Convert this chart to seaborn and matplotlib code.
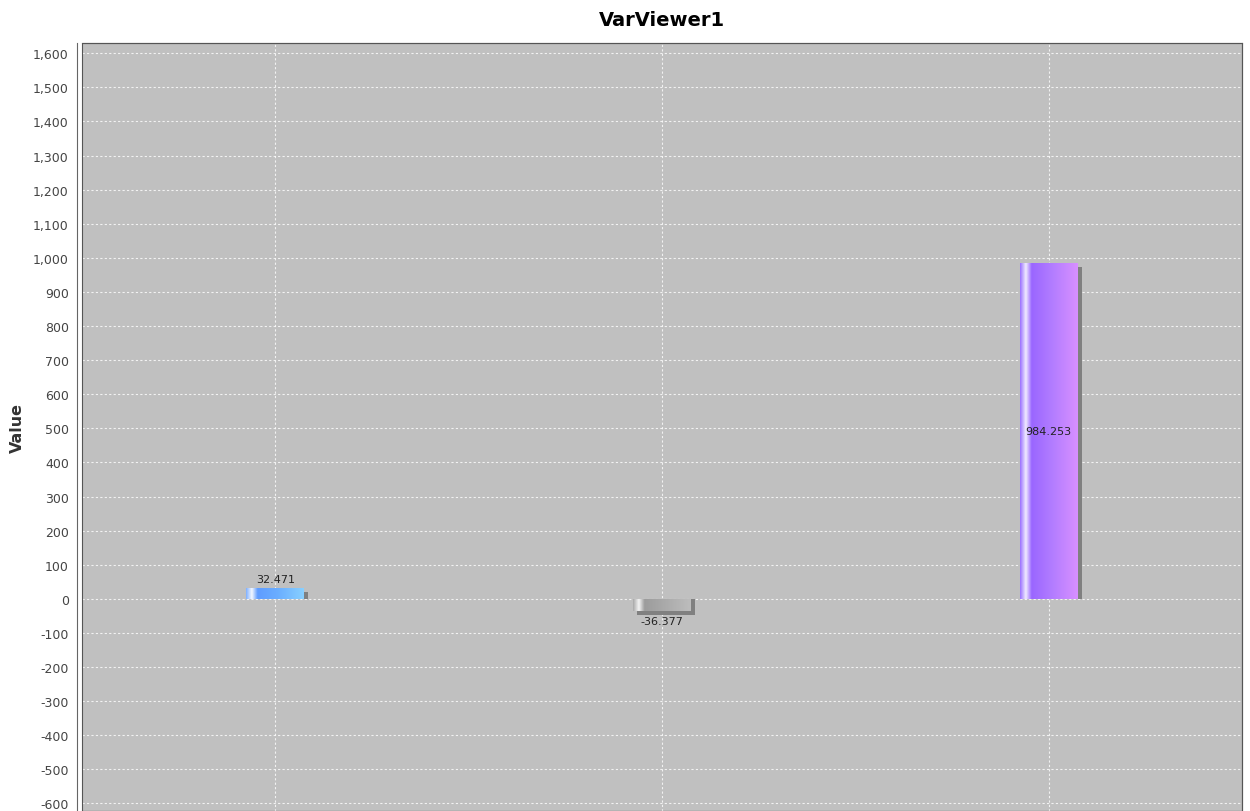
import matplotlib
matplotlib.use("Agg")
import matplotlib.pyplot as plt
from matplotlib.colors import LinearSegmentedColormap
from matplotlib.patches import Rectangle
import numpy as np
import pandas as pd
import seaborn as sns

categories = ["Row 1", "Row 2", "Row 3"]
values = [32.471, -36.377, 984.253]
labels = ["32.471", "-36.377", "984.253"]
bar_colors = ["#6ea8ff", "#a8a8a8", "#a070ff"]
# left-to-right shading of each bar (highlight near the left edge)
shades = [
    ["#7fb0ff", "#f4f8ff", "#5f9cff", "#6aaeff", "#88d0ff"],
    ["#a8a8a8", "#f4f4f4", "#9c9c9c", "#aaaaaa", "#bdbdbd"],
    ["#9a70ff", "#f0ecff", "#9a66ff", "#b27cff", "#d890ff"],
]

sns.set_style("white")
plt.rcParams["font.family"] = ["DejaVu Sans"]
plt.rcParams["axes.unicode_minus"] = False

df = pd.DataFrame({"cat": categories, "val": values})

fig = plt.figure(figsize=(12.5, 8.12), dpi=100)
ax = fig.add_axes([0.0656, 0.0, 0.928, 0.9458])
ax.set_facecolor("#c0c0c0")

sns.barplot(data=df, x="cat", y="val", hue="cat", palette=bar_colors,
            width=0.15, legend=False, ax=ax, zorder=3, saturation=1)

xlim = (-0.5, 2.5)
ylim = (-622, 1630)
ax.set_xlim(*xlim)
ax.set_ylim(*ylim)
ax.set_yticks(range(-600, 1601, 100))
ax.yaxis.set_major_formatter(matplotlib.ticker.StrMethodFormatter("{x:,.0f}"))
ax.tick_params(axis="y", labelsize=9, colors="#444444", length=3, pad=3)
ax.tick_params(axis="x", labelbottom=False, length=0)
ax.grid(True, color="white", linestyle=(0, (2, 2)), linewidth=0.8, alpha=0.8)
ax.set_axisbelow(True)
for s in ax.spines.values():
    s.set_color("#555555")
    s.set_linewidth(0.8)
ax.spines["left"].set_position(("outward", 3.5))
ax.spines["left"].set_color("#666666")
# plot border
ax.add_patch(Rectangle((0, 0), 1, 1, transform=ax.transAxes, fill=False,
                       edgecolor="#555555", linewidth=0.8, zorder=6, clip_on=False))

ax.set_xlabel("")
ax.set_ylabel("Value", fontsize=11.5, fontweight="bold", color="#333333", labelpad=6)
ax.set_title("VarViewer1", fontsize=14, fontweight="bold", pad=13, color="black")

# pixel -> data conversion for the 4px drop shadow
ax_w_px = 0.928 * 1250
ax_h_px = 0.9458 * 812
dx = 4 * (xlim[1] - xlim[0]) / ax_w_px
dy = 4 * (ylim[1] - ylim[0]) / ax_h_px

for p, sh, lab, v in zip(ax.patches, shades, labels, values):
    x0, y0 = p.get_x(), p.get_y()
    w, h = p.get_width(), p.get_height()
    # drop shadow, pegged to the base line
    ax.add_patch(Rectangle((x0 + dx, 0), w, v - dy, facecolor="#808080",
                           edgecolor="none", zorder=2))
    # gradient fill clipped to the bar
    cmap = LinearSegmentedColormap.from_list(
        "g", list(zip([0.0, 0.1, 0.2, 0.55, 1.0], sh)))
    grad = np.linspace(0, 1, 256).reshape(1, -1)
    ymin, ymax = sorted([y0, y0 + h])
    im = ax.imshow(grad, cmap=cmap, aspect="auto", extent=[x0, x0 + w, ymin, ymax],
                   zorder=4, interpolation="bilinear")
    im.set_clip_path(p)
    p.set_edgecolor("none")
    cx = x0 + w / 2
    if v > 500:
        ax.text(cx, v / 2, lab, ha="center", va="center", fontsize=8, color="#222222", zorder=5)
    elif v >= 0:
        ax.text(cx, v + 12, lab, ha="center", va="bottom", fontsize=8, color="#222222", zorder=5)
    else:
        ax.text(cx, v - 14, lab, ha="center", va="top", fontsize=8, color="#222222", zorder=5)

ax.set_xlim(*xlim)
ax.set_ylim(*ylim)
fig.savefig("out.png", dpi=100)
